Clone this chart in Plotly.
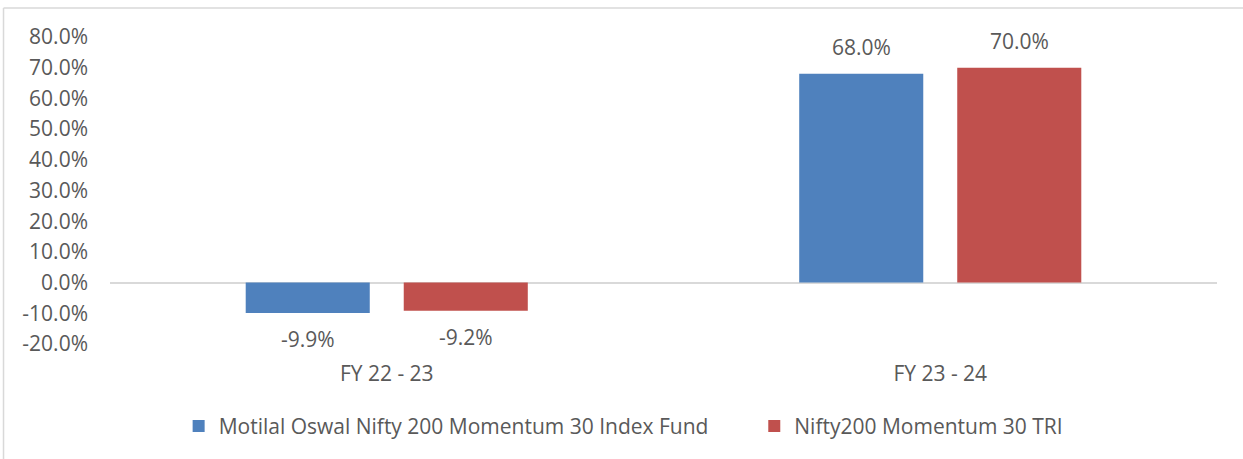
import plotly.graph_objects as go

categories = ["FY 22 - 23", "FY 23 - 24"]
series_names = ["Motilal Oswal Nifty 200 Momentum 30 Index Fund", "Nifty200 Momentum 30 TRI"]
fund_values = [-9.9, 68.0]
index_values = [-9.2, 70.0]
y_ticks = [-20, -10, 0, 10, 20, 30, 40, 50, 60, 70, 80]
y_tick_labels = [f"{v:.1f}%" for v in y_ticks]

colors = ["#4F81BD", "#C0504D"]
FONT = "Open Sans"
TXT = "#595959"
FS = 21

fig = go.Figure()
for name, vals, col, lg in zip(series_names, [fund_values, index_values], colors, ["legend", "legend2"]):
    fig.add_trace(go.Bar(x=categories, y=vals, name=name, marker_color=col,
                         marker_line_width=0, legend=lg))

annotations = []
for i, vals in enumerate([fund_values, index_values]):
    shift = -79 if i == 0 else 79
    for c, v in zip(categories, vals):
        annotations.append(dict(x=c, y=v, xref="x", yref="y", text=f"{v:.1f}%",
                                showarrow=False, xshift=shift,
                                yshift=27 if v >= 0 else -26,
                                font=dict(family=FONT, size=FS, color=TXT)))

legend_common = dict(orientation="h", xanchor="left", y=-0.268, yanchor="middle",
                     font=dict(family=FONT, size=FS, color=TXT), bgcolor="rgba(0,0,0,0)")

fig.update_layout(
    width=1243, height=459,
    margin=dict(l=110, r=26, t=37, b=114.5),
    paper_bgcolor="white", plot_bgcolor="white",
    barmode="group", bargap=0.429, bargroupgap=0.215,
    font=dict(family=FONT, size=FS, color=TXT),
    showlegend=True,
    legend=dict(x=0.062, **legend_common),
    legend2=dict(x=0.582, **legend_common),
    annotations=annotations,
    shapes=[
        dict(type="line", xref="paper", yref="paper", x0=-0.0962, x1=1.03, y0=1.0943, y1=1.0943,
             line=dict(color="#D9D9D9", width=1.5)),
        dict(type="line", xref="paper", yref="paper", x0=-0.0962, x1=-0.0962, y0=1.0943, y1=-0.4,
             line=dict(color="#D9D9D9", width=1.5)),
    ],
)
fig.update_xaxes(showgrid=False, showline=False, ticks="", ticklabelstandoff=15,
                 tickfont=dict(family=FONT, size=FS, color=TXT))
fig.update_yaxes(range=[-20, 80], tickvals=y_ticks, ticktext=y_tick_labels, showgrid=False,
                 zeroline=True, zerolinecolor="#D9D9D9", zerolinewidth=1.5, showline=False,
                 ticks="", ticklabelstandoff=21, tickfont=dict(family=FONT, size=FS, color=TXT))

fig.write_html("out.html", config={"displayModeBar": False},
               post_script="document.body.style.margin='0';document.body.style.padding='0';")
